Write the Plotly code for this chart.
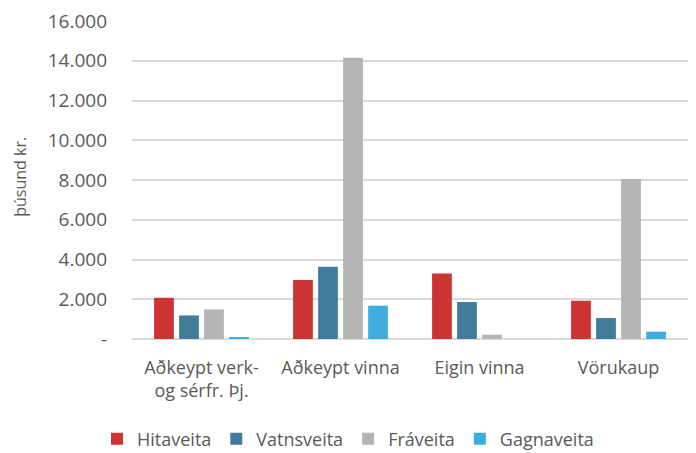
import plotly.graph_objects as go

categories = ["Aðkeypt verk-<br>og sérfr. Þj.", "Aðkeypt vinna", "Eigin vinna", "Vörukaup"]
hitaveita = [2075, 2965, 3300, 1925]
vatnsveita = [1186, 3630, 1860, 1055]
fraveita = [1487, 14150, 215, 8055]
gagnaveita = [80, 1675, 0, 367]
series_names = ["Hitaveita", "Vatnsveita", "Fráveita", "Gagnaveita"]
colors = ["#CC3333", "#407C99", "#B4B4B4", "#3DAEDB"]
tick_vals = [0, 2000, 4000, 6000, 8000, 10000, 12000, 14000, 16000]
tick_text = ["-", "2.000", "4.000", "6.000", "8.000", "10.000", "12.000", "14.000", "16.000"]

fig = go.Figure()
for name, vals, col in zip(series_names, [hitaveita, vatnsveita, fraveita, gagnaveita], colors):
    fig.add_trace(go.Bar(x=categories, y=vals, name=name, marker=dict(color=col, line=dict(width=0))))

font_family = "Open Sans, Liberation Sans, Arial"
fig.update_layout(
    width=696, height=453,
    margin=dict(l=132, r=8, t=21, b=114, autoexpand=False),
    paper_bgcolor="white", plot_bgcolor="white",
    barmode="group", bargap=0.28, bargroupgap=0.21,
    font=dict(family=font_family, size=18, color="#595959"),
    showlegend=True,
    legend=dict(orientation="h", x=0.5, xanchor="center", xref="container",
                y=(453 - 439) / 453, yanchor="middle", yref="container",
                itemwidth=30, font=dict(size=18, color="#595959"), traceorder="normal"),
    xaxis=dict(showgrid=False, showline=False, ticks="", automargin=False,
               ticklabelstandoff=16, tickfont=dict(size=18, color="#595959")),
    yaxis=dict(range=[0, 16000], tickvals=tick_vals, ticktext=tick_text, automargin=False,
               showgrid=True, gridcolor="#D9D9D9", gridwidth=1.5,
               zeroline=True, zerolinecolor="#D9D9D9", zerolinewidth=1.5,
               showline=False, ticks="", ticklabelstandoff=24,
               tickfont=dict(size=19, color="#595959")),
    annotations=[dict(text="þúsund kr.", textangle=-90, xref="paper", yref="paper",
                      x=(20 - 132) / 556, y=0.51, xanchor="center", yanchor="middle",
                      showarrow=False, font=dict(size=16, color="#595959"))],
)
fig.write_html("out.html", config={"displayModeBar": False},
               post_script="document.body.style.margin='0';")
